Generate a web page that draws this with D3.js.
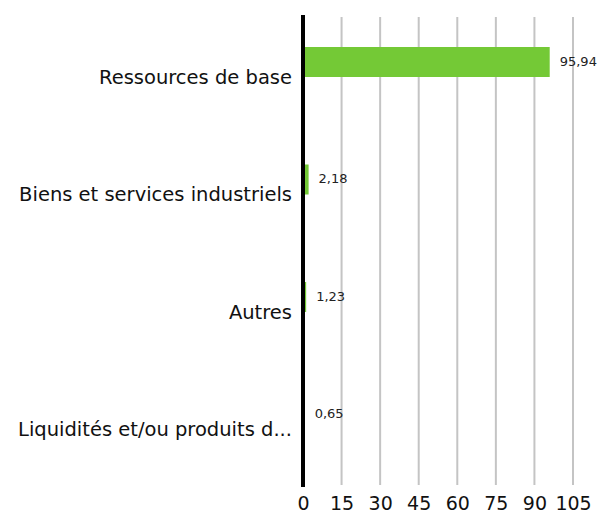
<!DOCTYPE html>
<html>
<head>
<meta charset="utf-8">
<script src="https://cdn.jsdelivr.net/npm/d3@7"></script>
<style>
  body { margin: 0; background: #fff; }
  #chart { width: 597px; height: 513px; }
</style>
</head>
<body>
<div id="chart"></div>
<script>
// sector exposure data
var categories = ["Ressources de base", "Biens et services industriels", "Autres", "Liquidités et/ou produits d..."];
var values = [95.94, 2.18, 1.23, 0.65];
var valueLabels = ["95,94", "2,18", "1,23", "0,65"];
var ticks = [0, 15, 30, 45, 60, 75, 90, 105];

var font = "'DejaVu Sans', sans-serif";
var margin = {top: 15, right: 24, bottom: 28, left: 303};
var width = 597 - margin.left - margin.right;
var height = 513 - margin.top - margin.bottom;

var svg = d3.select("#chart")
  .append("svg")
    .attr("width", 597)
    .attr("height", 513)
  .append("g")
    .attr("transform", "translate(" + margin.left + "," + margin.top + ")");

var x = d3.scaleLinear()
  .domain([0, 105])
  .range([0, 270]);

var y = d3.scaleBand()
  .domain(categories)
  .range([0, height]);

// gridlines
svg.append("g")
  .selectAll("line")
  .data(ticks.slice(1))
  .enter()
  .append("line")
    .attr("x1", function (d) { return x(d); })
    .attr("x2", function (d) { return x(d); })
    .attr("y1", 2)
    .attr("y2", height)
    .style("stroke", "#c4c4c4")
    .style("stroke-width", 2);

// bars sit in the upper part of each band
var barH = 30;
svg.append("g")
  .selectAll("rect")
  .data(d3.range(0, values.length))
  .enter()
  .append("rect")
    .attr("x", 0)
    .attr("y", function (d) { return y(categories[d]) + 32; })
    .attr("width", function (d) { return x(values[d]); })
    .attr("height", barH)
    .style("fill", "#74c936");

// value labels
svg.append("g")
  .selectAll("text")
  .data(d3.range(0, values.length))
  .enter()
  .append("text")
    .attr("x", function (d) { return x(values[d]) + 10; })
    .attr("y", function (d) { return y(categories[d]) + 31 + barH / 2; })
    .attr("dy", "0.35em")
    .style("font-family", font)
    .style("font-size", "13px")
    .style("fill", "#222")
    .text(function (d) { return valueLabels[d]; });

// category labels
svg.append("g")
  .selectAll("text")
  .data(categories)
  .enter()
  .append("text")
    .attr("x", -11)
    .attr("y", function (d) { return y(d) + y.bandwidth() / 2 + 3; })
    .attr("dy", "0.35em")
    .attr("text-anchor", "end")
    .style("font-family", font)
    .style("font-size", "19.5px")
    .style("fill", "#111")
    .text(function (d) { return d; });

// zero axis line
svg.append("line")
  .attr("x1", 0)
  .attr("x2", 0)
  .attr("y1", 0)
  .attr("y2", height + 2)
  .style("stroke", "#000")
  .style("stroke-width", 4);

// x axis tick labels
var xAxis = svg.append("g")
  .attr("transform", "translate(0," + height + ")")
  .call(d3.axisBottom(x).tickValues(ticks).tickSize(0).tickPadding(12));
xAxis.select(".domain").remove();
xAxis.selectAll("text")
  .style("font-family", font)
  .style("font-size", "19px")
  .style("fill", "#111");
</script>
</body>
</html>
